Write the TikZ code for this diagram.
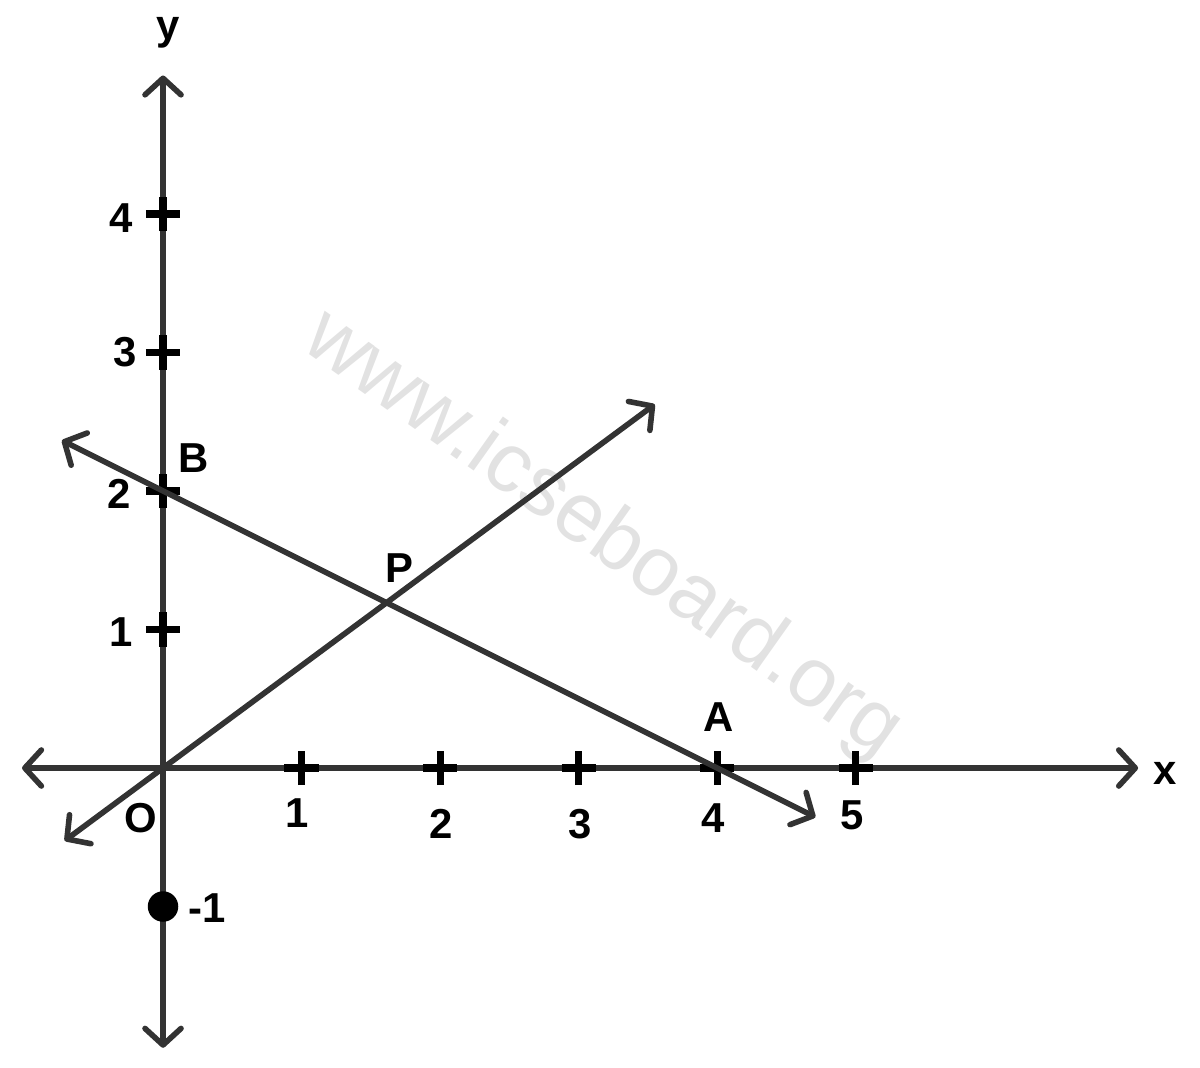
\documentclass[tikz,border=0pt]{standalone}
\usepackage{fontspec}
\setmainfont{Liberation Sans}
\usetikzlibrary{arrows.meta}
\definecolor{AxisGray}{HTML}{333333}
\definecolor{MarkGray}{HTML}{E2E2E2}

\begin{document}
\begin{tikzpicture}[
    % Ejes y rectas
    both/.style={
    {Straight Barb[length=3.4pt,width=7.4pt,round]}-{Straight Barb[length=3.4pt,width=7.4pt,round]},
    line width=1.15pt,
    color=AxisGray,
    line cap=round
    },
    % Marcas
    tick/.style={
            line width=1.45pt,
            color=black
        },
    % Etiquetas
    lbl/.style={
            font=\fontsize{8.6}{10}\selectfont\bfseries,
            text=black,
            inner sep=0pt
        },
    watermark/.style={
            font=\fontsize{17.3}{20}\selectfont,
            text=MarkGray,
            rotate=-35.3
        }
    ]

    \useasboundingbox (-1.177,-2.159) rectangle (7.487,5.545);

    % ========== MARCA DE AGUA ==========
    \node[watermark] (mark) at (3.17,1.68) {www.icseboard.org};

    % ========== PUNTOS ==========
    \coordinate (O) at (0,0);
    \coordinate (A) at (4,0);
    \coordinate (B) at (0,2);
    \coordinate (xl) at (-1.018,0);
    \coordinate (xr) at (7.04,0);
    \coordinate (yb) at (0,-2.02);
    \coordinate (yt) at (0,5.0);
    \coordinate (op1) at (-0.71,-0.525);
    \coordinate (op2) at (3.55,2.625);
    \coordinate (ba1) at (-0.73,2.365);
    \coordinate (ba2) at (4.71,-0.355);

    % ========== EJES ==========
    \draw[both] (xl) -- (xr);
    \draw[both] (yb) -- (yt);

    % Marcas en los ejes (cruces)
    \foreach \i in {1,...,5} {
        \draw[tick] (\i,-0.123) -- (\i,0.123) (\i-0.123,0) -- (\i+0.123,0);
    }
    \foreach \j in {1,...,4} {
        \draw[tick] (-0.123,\j) -- (0.123,\j) (0,\j-0.123) -- (0,\j+0.123);
    }

    % ========== RECTAS ==========
    \draw[both] (op1) -- (op2);
    \draw[both] (ba1) -- (ba2);

    % Punto -1
    \fill[black] (0,-1) circle (0.11);

    % ========== ETIQUETAS ==========
    \node[lbl] (ylab) at (0.036,5.307) {y};
    \node[lbl] (xlab) at (7.235,-0.036) {x};
    \node[lbl] (y4) at (-0.303,3.971) {4};
    \node[lbl] (y3) at (-0.274,3.004) {3};
    \node[lbl] (y2) at (-0.318,1.978) {2};
    \node[lbl] (y1) at (-0.303,0.982) {1};
    \node[lbl] (ym1) at (0.318,-1.011) {-1};
    \node[lbl] (x1) at (0.968,-0.325) {1};
    \node[lbl] (x2) at (2.007,-0.404) {2};
    \node[lbl] (x3) at (3.011,-0.404) {3};
    \node[lbl] (x4) at (3.971,-0.361) {4};
    \node[lbl] (x5) at (4.975,-0.339) {5};
    \node[lbl] (labO) at (-0.159,-0.361) {O};
    \node[lbl] (labB) at (0.224,2.238) {B};
    \node[lbl] (labP) at (1.704,1.444) {P};
    \node[lbl] (labA) at (4.014,0.368) {A};

\end{tikzpicture}
\end{document}
